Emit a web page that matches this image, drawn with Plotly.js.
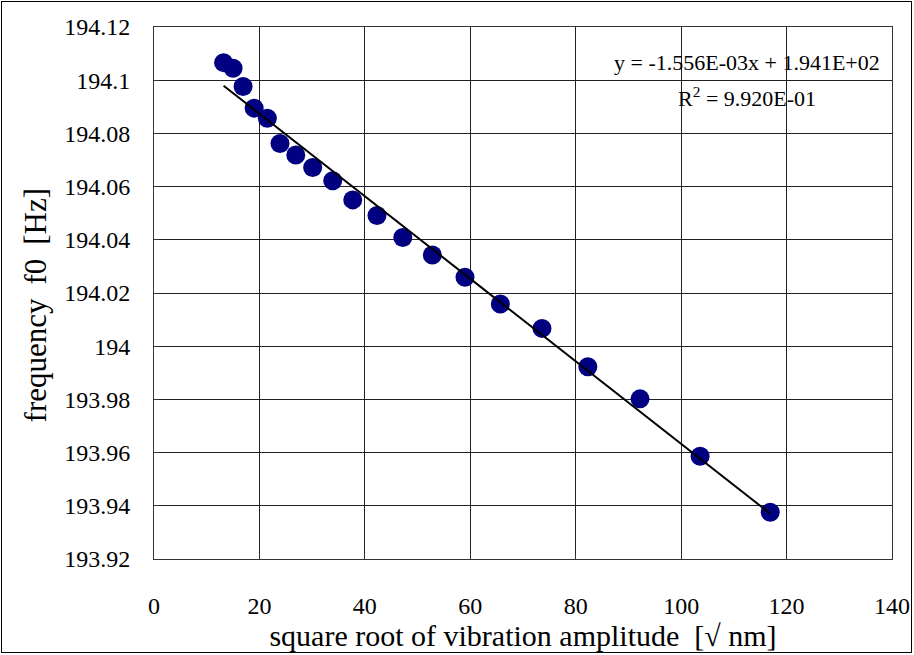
<!DOCTYPE html>
<html>
<head>
<meta charset="utf-8">
<script src="https://cdn.plot.ly/plotly-3.0.1.min.js"></script>
<style>
  html, body { margin: 0; padding: 0; background: #fff; }
  #wrap { position: relative; width: 914px; height: 655px; }
  #chart { width: 914px; height: 655px; }
  #frame { position: absolute; left: 1px; top: 1px; width: 909px; height: 650px; border: 1px solid #000; pointer-events: none; }
</style>
</head>
<body>
<div id="wrap"><div id="chart"></div><div id="frame"></div></div>
<script>
// Data
const amplitudeSqrt = [13.2, 15.0, 16.9, 19.0, 21.5, 23.9, 26.9, 30.1, 33.9, 37.7, 42.3, 47.2, 52.8, 59.0, 65.7, 73.6, 82.3, 92.2, 103.6, 116.9];
const frequencyF0 = [194.1066, 194.1045, 194.0976, 194.0895, 194.0857, 194.0762, 194.0719, 194.0672, 194.0622, 194.0550, 194.0491, 194.0409, 194.0343, 194.0259, 194.0159, 194.0067, 193.9923, 193.9802, 193.9586, 193.9376];
const xTickVals = [0, 20, 40, 60, 80, 100, 120, 140];
const yTickVals = [193.92, 193.94, 193.96, 193.98, 194, 194.02, 194.04, 194.06, 194.08, 194.1, 194.12];
const yTickText = ['193.92', '193.94', '193.96', '193.98', '194', '194.02', '194.04', '194.06', '194.08', '194.1', '194.12'];
const equationText = 'y = -1.556E-03x + 1.941E+02';
const r2Text = 'R<sup>2</sup> = 9.920E-01';
const xTitle = 'square root of vibration amplitude \u00A0[\u221A nm]';
const yTitle = 'frequency \u2009f0 \u2009[Hz]';

// Linear least-squares trend line from the data
const n = amplitudeSqrt.length;
const mx = amplitudeSqrt.reduce((a, b) => a + b, 0) / n;
const my = frequencyF0.reduce((a, b) => a + b, 0) / n;
let sxy = 0, sxx = 0;
for (let i = 0; i < n; i++) { sxy += (amplitudeSqrt[i] - mx) * (frequencyF0[i] - my); sxx += (amplitudeSqrt[i] - mx) ** 2; }
const slope = sxy / sxx;
const intercept = my - slope * mx;
const xMin = Math.min(...amplitudeSqrt), xMax = Math.max(...amplitudeSqrt);
const trendX = [xMin, xMax];
const trendY = trendX.map(v => intercept + slope * v);

const font = '"Liberation Serif", "Times New Roman", serif';

const data = [
  {
    x: amplitudeSqrt, y: frequencyF0, type: 'scatter', mode: 'markers',
    marker: { color: '#000080', size: 19 }, showlegend: false, hoverinfo: 'x+y'
  },
  {
    x: trendX, y: trendY, type: 'scatter', mode: 'lines',
    line: { color: '#000', width: 2 }, showlegend: false, hoverinfo: 'skip'
  }
];

const layout = {
  width: 914, height: 655,
  margin: { l: 154, r: 22, t: 27, b: 96 },
  paper_bgcolor: '#fff', plot_bgcolor: '#fff',
  font: { family: font, color: '#000', size: 24 },
  xaxis: {
    range: [0, 140], tickvals: xTickVals, ticktext: xTickVals.map(String),
    showgrid: true, gridcolor: '#222', gridwidth: 1,
    zeroline: false, showline: true, linecolor: '#333', linewidth: 1, mirror: true,
    ticks: 'inside', ticklen: 5, tickcolor: '#333',
    tickfont: { family: font, size: 24, color: '#000' },
    ticklabelstandoff: 25,
    title: { text: xTitle, font: { family: font, size: 30, color: '#000' }, standoff: 0 }
  },
  yaxis: {
    range: [193.92, 194.12], tickvals: yTickVals, ticktext: yTickText,
    showgrid: true, gridcolor: '#222', gridwidth: 1,
    zeroline: false, showline: true, linecolor: '#333', linewidth: 1, mirror: true,
    ticks: 'inside', ticklen: 5, tickcolor: '#333',
    tickfont: { family: font, size: 24, color: '#000' },
    ticklabelstandoff: 18
  },
  annotations: [
    { xref: 'paper', yref: 'paper', x: -0.161, y: 0.477, xanchor: 'center', yanchor: 'middle', showarrow: false,
      textangle: -90, text: yTitle, font: { family: font, size: 31, color: '#000' } },
    { xref: 'paper', yref: 'paper', x: 0.987, y: 0.934, xanchor: 'right', yanchor: 'middle', showarrow: false,
      text: equationText, font: { family: font, size: 22, color: '#000' } },
    { xref: 'paper', yref: 'paper', x: 0.9, y: 0.868, xanchor: 'right', yanchor: 'middle', showarrow: false,
      text: r2Text, font: { family: font, size: 22, color: '#000' } }
  ]
};

Plotly.newPlot('chart', data, layout, { displayModeBar: false, staticPlot: true });
</script>
</body>
</html>
